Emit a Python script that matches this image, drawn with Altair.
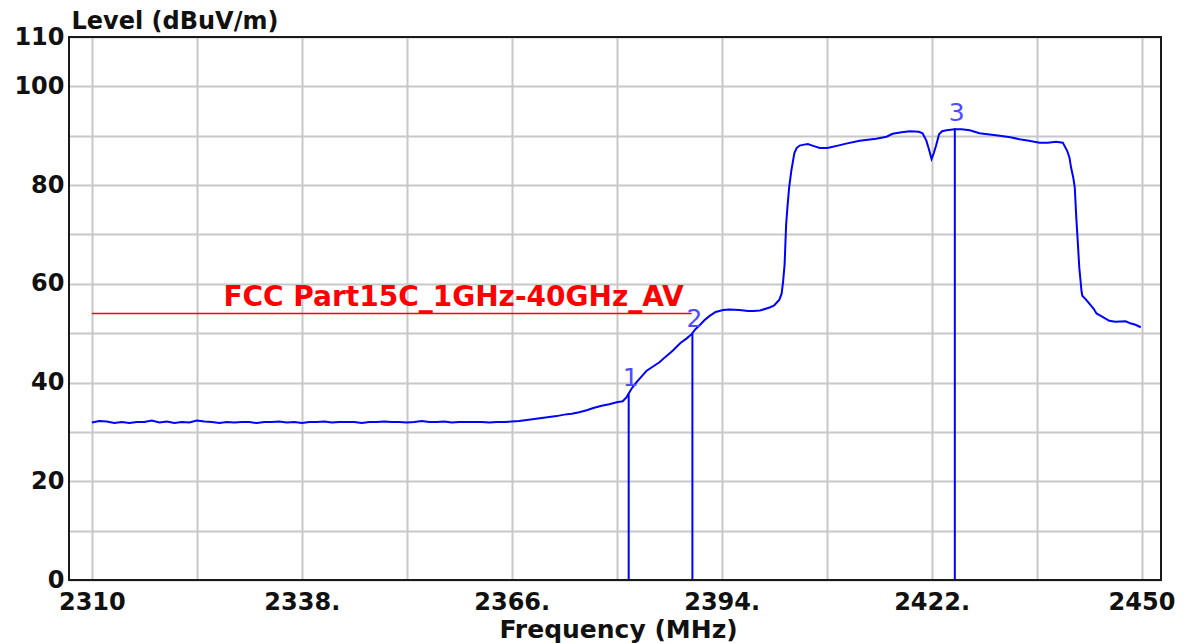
import altair as alt
import pandas as pd

# ---- data ----
freq = [2310, 2311, 2312, 2313, 2314, 2315, 2316, 2317, 2318, 2319,
        2320, 2321, 2322, 2323, 2324, 2325, 2326, 2327, 2328, 2329,
        2330, 2331, 2332, 2333, 2334, 2335, 2336, 2337, 2338, 2339,
        2340, 2341, 2342, 2343, 2344, 2345, 2346, 2347, 2348, 2349,
        2350, 2351, 2352, 2353, 2354, 2355, 2356, 2357, 2358, 2359,
        2360, 2361, 2362, 2363, 2364, 2365, 2366, 2367, 2368, 2369,
        2370, 2371, 2372, 2373, 2374, 2375, 2376, 2377, 2378, 2379,
        2380, 2380.8, 2381.3, 2381.6, 2382.0, 2382.6, 2383.3, 2384.0, 2385.0, 2385.7,
        2386.5, 2387.5, 2388.5, 2389.3, 2390.0, 2390.5, 2391.0, 2391.7, 2392.4, 2393.2,
        2394.2, 2395.0, 2396.4, 2397.5, 2398.2, 2399.1, 2400.4, 2401.0, 2401.7, 2402.0,
        2402.2, 2402.4, 2402.6, 2402.8, 2403.0, 2403.3, 2403.7, 2404.0, 2404.4, 2405.0,
        2405.5, 2406.3, 2407.1, 2408.0, 2408.4, 2409.5, 2410.6, 2412.4, 2414.6, 2416.0,
        2416.8, 2418.0, 2419.1, 2420.3, 2420.8, 2421.3, 2421.6, 2422.0, 2422.3, 2422.6,
        2423.0, 2423.4, 2424.0, 2425.1, 2426.0, 2427.1, 2428.4, 2429.5, 2431.1, 2432.5,
        2433.7, 2435.0, 2436.4, 2437.5, 2438.6, 2439.5, 2440.1, 2440.4, 2440.6, 2440.9,
        2441.1, 2441.3, 2441.5, 2441.7, 2442.0, 2442.1, 2442.6, 2443.1, 2443.6, 2444.0,
        2444.8, 2445.7, 2446.5, 2447.9, 2448.5, 2449.2, 2449.9]
level = [31.9, 32.2, 32.1, 31.8, 32.0, 31.8, 32.0, 32.0, 32.3, 31.9,
         32.1, 31.8, 32.0, 31.9, 32.3, 32.1, 32.0, 31.8, 32.0, 31.9,
         32.0, 32.0, 31.8, 32.0, 32.0, 32.1, 31.9, 32.0, 31.8, 32.0,
         32.0, 32.1, 31.9, 32.0, 32.0, 32.0, 31.8, 32.0, 32.0, 32.1,
         32.0, 32.0, 31.9, 32.0, 32.2, 32.0, 32.0, 32.1, 31.9, 32.0,
         32.0, 32.0, 32.0, 31.9, 32.0, 32.0, 32.1, 32.2, 32.4, 32.6,
         32.8, 33.0, 33.2, 33.5, 33.7, 34.0, 34.4, 34.9, 35.3, 35.6,
         36.0, 36.2, 37.0, 37.8, 38.8, 40.0, 41.2, 42.4, 43.4, 44.1,
         45.2, 46.5, 48.0, 48.9, 49.8, 50.8, 51.5, 52.6, 53.5, 54.3,
         54.7, 54.8, 54.7, 54.5, 54.5, 54.6, 55.2, 55.6, 56.8, 58.0,
         60.5, 64.0, 72.0, 76.0, 79.5, 83.0, 86.5, 87.5, 88.0, 88.2,
         88.3, 87.9, 87.5, 87.5, 87.6, 88.0, 88.4, 89.0, 89.4, 89.8,
         90.4, 90.7, 90.9, 90.8, 90.5, 89.0, 87.5, 85.3, 86.5, 88.0,
         90.3, 90.9, 91.1, 91.3, 91.3, 91.1, 90.5, 90.3, 90.0, 89.7,
         89.3, 89.0, 88.6, 88.6, 88.8, 88.6, 86.9, 85.5, 83.6, 81.5,
         79.5, 73.4, 68.5, 63.3, 58.5, 57.6, 56.8, 55.9, 55.0, 54.0,
         53.3, 52.5, 52.3, 52.4, 52.0, 51.7, 51.2]

marker_names = ["1", "2", "3"]
marker_freq = [2381.6, 2390.1, 2425.1]
marker_level = [37.8, 49.9, 91.5]

limit_label = "FCC Part15C_1GHz-40GHz_AV"
limit_start = [2310]
limit_end = [2390]
limit_level = [54.0]

x_tick_values = [2310, 2324, 2338, 2352, 2366, 2380, 2394, 2408, 2422, 2436, 2450]
x_tick_labels = ["2310", "", "2338.", "", "2366.", "", "2394.", "", "2422.", "", "2450"]
y_tick_values = [0, 10, 20, 30, 40, 50, 60, 70, 80, 90, 100, 110]
y_tick_labels = ["0", "", "20", "", "40", "", "60", "", "80", "", "100", "110"]

# ---- chart ----
W, H = 1092, 543
FONT = "DejaVu Sans"
BLUE = "#0000ff"


def label_expr(values, labels):
    expr = "''"
    for v, l in reversed(list(zip(values, labels))):
        expr = f"datum.value == {v} ? '{l}' : ({expr})"
    return expr


x_scale = alt.Scale(domain=[2306.95, 2452.6], nice=False, zero=False)
y_scale = alt.Scale(domain=[0, 110], nice=False, zero=False)

x_axis = alt.Axis(
    values=x_tick_values, labelExpr=label_expr(x_tick_values, x_tick_labels),
    grid=True, gridColor="#c8c8c8", gridWidth=2, domain=False, ticks=False, tickSize=0,
    labelPadding=10, labelFont=FONT, labelFontWeight="bold", labelFontSize=24,
    labelColor="#111111", labelFlush=False, labelOverlap=False,
    title="Frequency (MHz)", titleFont=FONT, titleFontWeight="bold", titleFontSize=25,
    titleColor="#111111", titleX=549, titleY=57, titleAlign="center",
    titleBaseline="alphabetic",
)
y_axis = alt.Axis(
    values=y_tick_values, labelExpr=label_expr(y_tick_values, y_tick_labels),
    grid=True, gridColor="#c8c8c8", gridWidth=2, domain=False, ticks=False, tickSize=0,
    labelPadding=5, labelFont=FONT, labelFontWeight="bold", labelFontSize=24,
    labelColor="#111111", labelFlush=False, labelOverlap=False,
    title="Level (dBuV/m)", titleFont=FONT, titleFontWeight="bold", titleFontSize=24,
    titleColor="#111111", titleAngle=0, titleX=2, titleY=-9, titleAlign="left",
    titleBaseline="alphabetic",
)


def X(f):
    return alt.X(f, type="quantitative", scale=x_scale, axis=x_axis)


def Y(f):
    return alt.Y(f, type="quantitative", scale=y_scale, axis=y_axis)


trace_df = pd.DataFrame({"freq": freq, "level": level})
marker_df = pd.DataFrame({"freq": marker_freq, "level": marker_level,
                          "base": [0] * len(marker_freq), "name": marker_names})
limit_df = pd.DataFrame({"freq": limit_start, "freq2": limit_end,
                         "level": limit_level, "label": [limit_label]})

trace = alt.Chart(trace_df).mark_line(color=BLUE, strokeWidth=2).encode(
    x=X("freq"), y=Y("level"))

limit_line = alt.Chart(limit_df).mark_rule(color="#ff0000", strokeWidth=1.5).encode(
    x=X("freq"), x2="freq2", y=Y("level"))

limit_text = alt.Chart(limit_df).mark_text(
    align="right", baseline="alphabetic", dx=-8, dy=-7, font=FONT, fontWeight="bold",
    fontSize=28, color="#ff0000").encode(
    x=X("freq2"), y=Y("level"), text="label:N")

marker_rules = alt.Chart(marker_df).mark_rule(color=BLUE, strokeWidth=2).encode(
    x=X("freq"), y=Y("base"), y2="level")

marker_text = alt.Chart(marker_df).mark_text(
    align="center", baseline="alphabetic", dx=2, dy=-7, font=FONT,
    fontSize=25, color="#4d4dff").encode(
    x=X("freq"), y=Y("level"), text="name:N")

frame = alt.Chart(pd.DataFrame({"a": [0]})).mark_rect(
    fill="white", fillOpacity=0, stroke="#1a1a1a", strokeWidth=2).encode(
    x=alt.value(0), x2=alt.value(W), y=alt.value(0), y2=alt.value(H))

chart = alt.layer(
    trace, limit_line, limit_text, marker_rules, marker_text, frame
).properties(
    width=W, height=H,
    autosize=alt.AutoSizeParams(type="none"),
    padding={"left": 61, "top": 29, "right": 20, "bottom": 63},
    background="white",
).configure_view(strokeWidth=0)

chart.save("out.html", embed_options={"renderer": "svg", "actions": False})
